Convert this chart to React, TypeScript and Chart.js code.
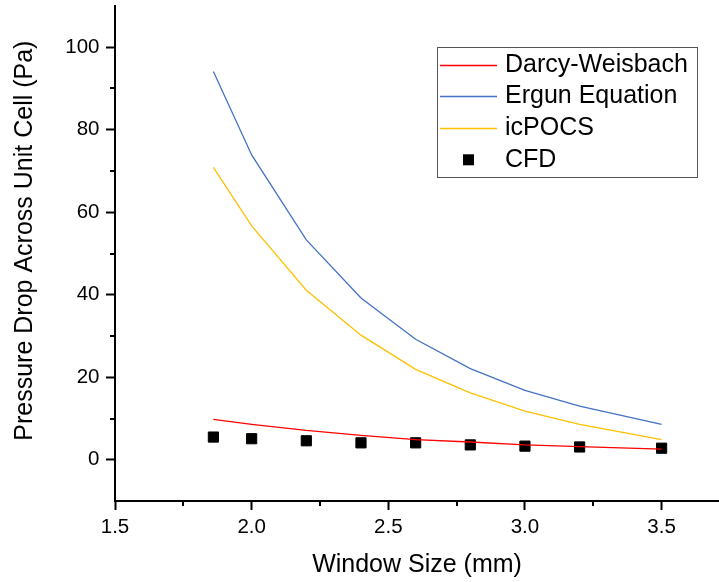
import React, { useEffect, useRef } from "react";
import { Chart, registerables } from "chart.js";

Chart.register(...registerables);

const windowSize = [1.86, 2.0, 2.2, 2.4, 2.6, 2.8, 3.0, 3.2, 3.5];
const darcyWeisbach = [9.8, 8.6, 7.1, 5.9, 4.9, 4.3, 3.6, 3.2, 2.6];
const ergunEquation = [94.1, 73.9, 53.3, 39.2, 29.2, 22.1, 16.8, 13.0, 8.6];
const icPOCS = [70.9, 56.7, 41.1, 30.2, 21.9, 16.2, 11.8, 8.6, 4.9];
const cfd = [5.5, 5.1, 4.6, 4.1, 4.1, 3.6, 3.3, 3.1, 2.8];

const xMajorTicks = [1.5, 2.0, 2.5, 3.0, 3.5];
const xMinorTicks = [1.75, 2.25, 2.75, 3.25];
const yMajorTicks = [0, 20, 40, 60, 80, 100];
const yMinorTicks = [10, 30, 50, 70, 90];

const FONT = "'Liberation Sans', Arial, sans-serif";

const pts = (ys: number[]) => windowSize.map((x, i) => ({ x, y: ys[i] }));

const minorTickPlugin = {
  id: "minorTicks",
  afterDraw(chart: any) {
    const ctx = chart.ctx;
    const xs = chart.scales.x;
    const ys = chart.scales.y;
    const area = chart.chartArea;
    ctx.save();
    ctx.strokeStyle = "#000";
    ctx.lineWidth = 2;
    ctx.beginPath();
    xMinorTicks.forEach((v) => {
      const px = Math.round(xs.getPixelForValue(v));
      ctx.moveTo(px, area.bottom);
      ctx.lineTo(px, area.bottom + 5);
    });
    yMinorTicks.forEach((v) => {
      const py = Math.round(ys.getPixelForValue(v));
      ctx.moveTo(area.left, py);
      ctx.lineTo(area.left - 5, py);
    });
    ctx.stroke();
    ctx.restore();
  },
};

const yTitlePlugin = {
  id: "yTitle",
  afterDraw(chart: any) {
    const ctx = chart.ctx;
    const area = chart.chartArea;
    ctx.save();
    ctx.translate(25, area.top + (area.bottom - area.top) * 0.474);
    ctx.rotate(-Math.PI / 2);
    ctx.font = `25px ${FONT}`;
    ctx.fillStyle = "#000";
    ctx.textAlign = "center";
    ctx.textBaseline = "middle";
    ctx.fillText("Pressure Drop Across Unit Cell (Pa)", 0, 0);
    ctx.restore();
  },
};

const legendPlugin = {
  id: "boxLegend",
  afterDraw(chart: any) {
    const ctx = chart.ctx;
    const area = chart.chartArea;
    const right = area.right - 22;
    const left = right - 260;
    const top = area.top + 41;
    const height = 130;
    ctx.save();
    ctx.strokeStyle = "#555";
    ctx.lineWidth = 1;
    ctx.strokeRect(Math.round(left) + 0.5, Math.round(top) + 0.5, 260, height);
    ctx.font = `25px ${FONT}`;
    ctx.textBaseline = "middle";
    ctx.textAlign = "left";
    chart.data.datasets.forEach((ds: any, i: number) => {
      const cy = top + 17.7 + i * 31.7;
      if (ds.showLine) {
        ctx.strokeStyle = ds.borderColor;
        ctx.lineWidth = 1.5;
        ctx.beginPath();
        ctx.moveTo(left + 3, Math.round(cy) + 0.5);
        ctx.lineTo(left + 60, Math.round(cy) + 0.5);
        ctx.stroke();
      } else {
        ctx.fillStyle = ds.backgroundColor;
        ctx.fillRect(left + 26, cy - 5.5, 11, 11);
      }
      ctx.fillStyle = "#000";
      ctx.fillText(ds.label, left + 68, cy);
    });
    ctx.restore();
  },
};

export default function App() {
  const canvasRef = useRef<HTMLCanvasElement>(null);

  useEffect(() => {
    if (!canvasRef.current) return;
    const lineDs = (label: string, data: number[], color: string) => ({
      type: "line" as const,
      label,
      data: pts(data),
      borderColor: color,
      backgroundColor: color,
      borderWidth: 1.3,
      pointRadius: 0,
      showLine: true,
      tension: 0,
    });
    const chart = new Chart(canvasRef.current, {
      type: "scatter",
      data: {
        datasets: [
          lineDs("Darcy-Weisbach", darcyWeisbach, "#FF0000"),
          lineDs("Ergun Equation", ergunEquation, "#4472C4"),
          lineDs("icPOCS", icPOCS, "#FFC000"),
          {
            type: "scatter" as const,
            label: "CFD",
            data: pts(cfd),
            pointStyle: "rect",
            pointRadius: 7.2,
            borderWidth: 1,
            borderColor: "#000",
            backgroundColor: "#000",
            showLine: false,
          },
        ],
      },
      options: {
        responsive: false,
        animation: false,
        layout: { autoPadding: false, padding: { top: 6, left: 0, right: 0, bottom: 0 } },
        plugins: {
          legend: { display: false },
          tooltip: { enabled: false },
        },
        scales: {
          x: {
            type: "linear",
            min: 1.5,
            max: 3.71,
            afterBuildTicks: (scale: any) => {
              scale.ticks = xMajorTicks.map((value) => ({ value }));
            },
            afterFit: (scale: any) => {
              scale.height = 81;
              scale.paddingLeft = 0;
              scale.paddingRight = 0;
            },
            grid: {
              drawOnChartArea: false,
              drawTicks: true,
              tickLength: 9,
              tickWidth: 2,
              tickColor: "#000",
            },
            border: { display: true, color: "#000", width: 2 },
            ticks: {
              padding: 5,
              color: "#000",
              font: { family: FONT, size: 20.5 },
              callback: (v: any) => Number(v).toFixed(1),
              maxRotation: 0,
            },
            title: {
              display: true,
              text: "Window Size (mm)",
              color: "#000",
              font: { family: FONT, size: 25 },
              padding: { top: 2, bottom: 2 },
            },
          },
          y: {
            type: "linear",
            min: -10,
            max: 110,
            afterBuildTicks: (scale: any) => {
              scale.ticks = yMajorTicks.map((value) => ({ value }));
            },
            afterFit: (scale: any) => {
              scale.width = 115;
              scale.paddingTop = 0;
              scale.paddingBottom = 0;
            },
            grid: {
              drawOnChartArea: false,
              drawTicks: true,
              tickLength: 9,
              tickWidth: 2,
              tickColor: "#000",
            },
            border: { display: true, color: "#000", width: 2 },
            ticks: {
              padding: 6.5,
              color: "#000",
              font: { family: FONT, size: 20.5 },
              callback: (v: any) => String(v),
            },
          },
        },
      },
      plugins: [minorTickPlugin, yTitlePlugin, legendPlugin],
    });
    return () => chart.destroy();
  }, []);

  return (
    <div style={{ position: "fixed", left: 0, top: 0, width: 719, height: 582, background: "#fff" }}>
      <canvas ref={canvasRef} width={719} height={582} />
    </div>
  );
}
